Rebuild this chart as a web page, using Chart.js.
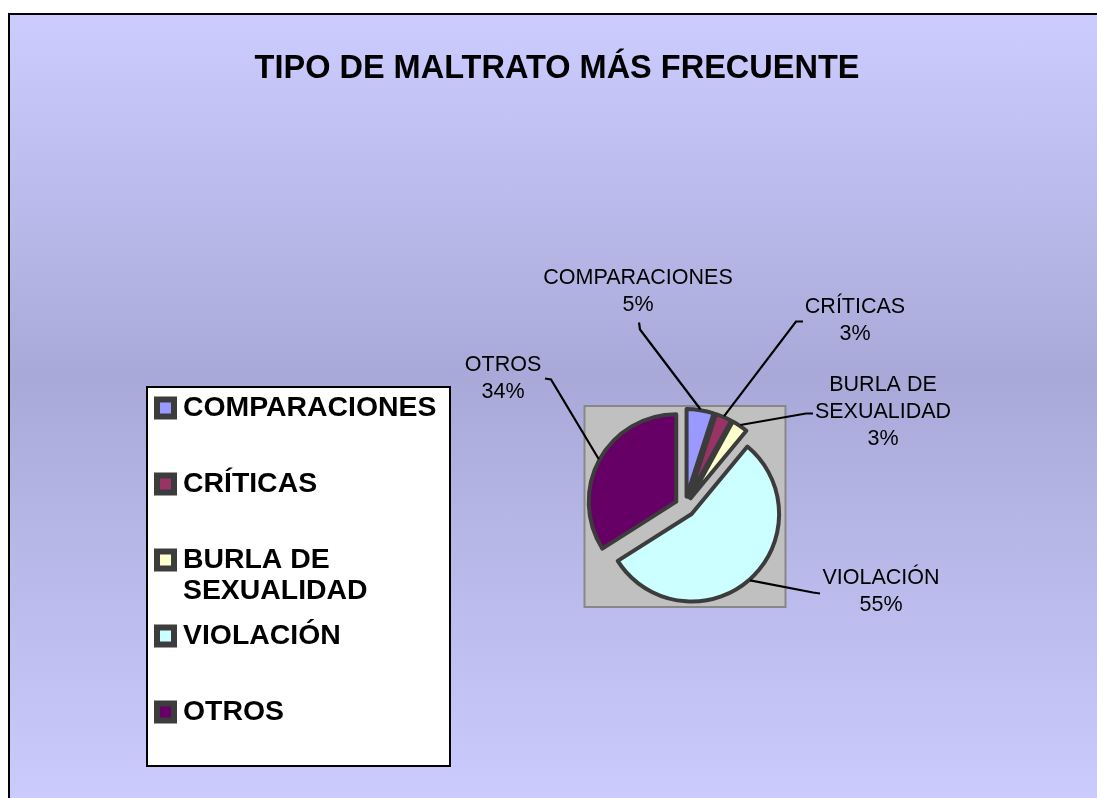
<!DOCTYPE html>
<html>
<head>
<meta charset="utf-8">
<script src="https://cdn.jsdelivr.net/npm/chart.js@4/dist/chart.umd.min.js"></script>
<style>
  html, body { margin: 0; padding: 0; overflow: hidden; background: #fff; }
  #frame {
    position: absolute; left: 8px; top: 13px; width: 1120px; height: 800px;
    border: 2px solid #000;
    background: linear-gradient(to bottom, #ccccff 0%, #a9a9d9 45%, #ccccff 100%);
  }
  #chart { position: absolute; left: 0; top: 0; }
</style>
</head>
<body>
<div id="frame"></div>
<canvas id="chart" width="1114" height="798"></canvas>
<script>
const chartTitle = 'TIPO DE MALTRATO MÁS FRECUENTE';
const labels = ['COMPARACIONES', 'CRÍTICAS', 'BURLA DE SEXUALIDAD', 'VIOLACIÓN', 'OTROS'];
const values = [5, 3, 3, 55, 34];
const sliceColors = ['#9999ff', '#993366', '#ffffcc', '#ccffff', '#660066'];

const FONT = '"Liberation Sans", Arial, sans-serif';
const EXPLODE = 10; // how far each slice is pulled out

// Excel style exploded pie: move every slice out along its middle angle
const ArcEl = Chart.ArcElement || Chart.elements.ArcElement;
const baseArcDraw = ArcEl.prototype.draw;
ArcEl.prototype.draw = function (ctx) {
    const mid = (this.startAngle + this.endAngle) / 2;
    ctx.save();
    ctx.translate(Math.cos(mid) * EXPLODE, Math.sin(mid) * EXPLODE);
    baseArcDraw.call(this, ctx);
    ctx.restore();
};

function wrapText(ctx, text, maxW) {
    const out = [];
    let line = '';
    text.split(' ').forEach(w => {
        const test = line ? line + ' ' + w : w;
        if (line && ctx.measureText(test).width > maxW) {
            out.push(line);
            line = w;
        } else {
            line = test;
        }
    });
    out.push(line);
    return out;
}

// empty box on the left so the pie sits right of centre while the title stays centred
const sideGap = {
    id: 'sideGap',
    beforeInit(chart) {
        Chart.layouts.addBox(chart, {
            position: 'left', weight: 5, fullSize: false, options: {},
            isHorizontal() { return false; },
            update(maxW, maxH) { this.width = 256; this.height = maxH; },
            draw() {}
        });
    }
};

// grey square behind the pie
const plotBox = {
    id: 'plotBox',
    beforeDatasetsDraw(chart) {
        const arc = chart.getDatasetMeta(0).data[0];
        const half = arc.outerRadius + 13;
        const ctx = chart.ctx;
        ctx.save();
        ctx.fillStyle = '#c0c0c0';
        ctx.fillRect(arc.x - half, arc.y - half, half * 2, half * 2);
        ctx.strokeStyle = '#878787';
        ctx.lineWidth = 2;
        ctx.strokeRect(arc.x - half, arc.y - half, half * 2, half * 2);
        ctx.restore();
    }
};

// category + percent labels with leader lines
const sliceLabels = {
    id: 'sliceLabels',
    afterDatasetsDraw(chart, args, opts) {
        const ctx = chart.ctx;
        const meta = chart.getDatasetMeta(0);
        const data = chart.data.datasets[0].data;
        const total = data.reduce((a, b) => a + b, 0);
        ctx.save();
        ctx.font = opts.size + 'px ' + FONT;
        ctx.fillStyle = '#000';
        ctx.strokeStyle = '#000';
        ctx.lineWidth = 2.2;
        ctx.textAlign = 'center';
        ctx.textBaseline = 'middle';
        meta.data.forEach((arc, i) => {
            const spot = opts.spots[i];
            const mid = (arc.startAngle + arc.endAngle) / 2;
            const r = arc.outerRadius + EXPLODE + 1;
            ctx.beginPath();
            ctx.moveTo(arc.x + spot.p0[0], arc.y + spot.p0[1]);
            ctx.lineTo(arc.x + spot.p1[0], arc.y + spot.p1[1]);
            ctx.lineTo(arc.x + Math.cos(mid) * r, arc.y + Math.sin(mid) * r);
            ctx.stroke();
            const lines = wrapText(ctx, chart.data.labels[i], opts.wrapWidth);
            lines.push(Math.round(data[i] / total * 100) + '%');
            lines.forEach((t, k) => {
                ctx.fillText(t, arc.x + spot.text[0], arc.y + spot.text[1] + k * opts.lineHeight);
            });
        });
        ctx.restore();
    }
};

// white legend box on the left
const boxLegend = {
    id: 'boxLegend',
    afterDraw(chart, args, o) {
        const ctx = chart.ctx;
        const colors = chart.data.datasets[0].backgroundColor;
        ctx.save();
        ctx.fillStyle = '#fff';
        ctx.fillRect(o.x, o.y, o.w, o.h);
        ctx.strokeStyle = '#000';
        ctx.lineWidth = 2;
        ctx.strokeRect(o.x, o.y, o.w, o.h);
        ctx.font = 'bold ' + o.size + 'px ' + FONT;
        ctx.textAlign = 'left';
        ctx.textBaseline = 'middle';
        chart.data.labels.forEach((lab, i) => {
            const cy = o.y + o.first + i * o.step;
            ctx.fillStyle = '#3c3c3c';
            ctx.fillRect(o.x + 7, cy - 11.5, 23, 23);
            ctx.fillStyle = colors[i];
            ctx.fillRect(o.x + 13, cy - 5.5, 11, 11);
            ctx.fillStyle = '#000';
            wrapText(ctx, lab, o.w - 42).forEach((t, k) => {
                ctx.fillText(t, o.x + 36, cy + k * o.lineHeight);
            });
        });
        ctx.restore();
    }
};

new Chart(document.getElementById('chart'), {
    type: 'pie',
    data: {
        labels: labels,
        datasets: [{
            data: values,
            backgroundColor: sliceColors,
            borderColor: '#3c3c3c',
            borderWidth: 4,
            borderJoinStyle: 'round'
        }]
    },
    options: {
        responsive: false,
        animation: false,
        events: [],
        radius: 87.5,
        plugins: {
            legend: { display: false },
            tooltip: { enabled: false },
            title: {
                display: true,
                text: chartTitle,
                color: '#000',
                font: { family: FONT, size: 32.5, weight: 'bold' },
                padding: { top: 50, bottom: 126 }
            },
            sliceLabels: {
                size: 21.5,
                lineHeight: 27,
                wrapWidth: 200,
                spots: [
                    { text: [-47, -228], p0: [-46, -184], p1: [-45, -177] },
                    { text: [170, -199], p0: [118, -185], p1: [111, -185] },
                    { text: [198, -121], p0: [128, -93], p1: [121, -93] },
                    { text: [196, 72], p0: [135, 87], p1: [128, 86] },
                    { text: [-182, -141], p0: [-140, -128], p1: [-134, -127] }
                ]
            },
            boxLegend: { x: 147, y: 387, w: 303, h: 379, first: 21, step: 76, size: 28.4, lineHeight: 31 }
        }
    },
    plugins: [sideGap, plotBox, sliceLabels, boxLegend]
});
</script>
</body>
</html>
